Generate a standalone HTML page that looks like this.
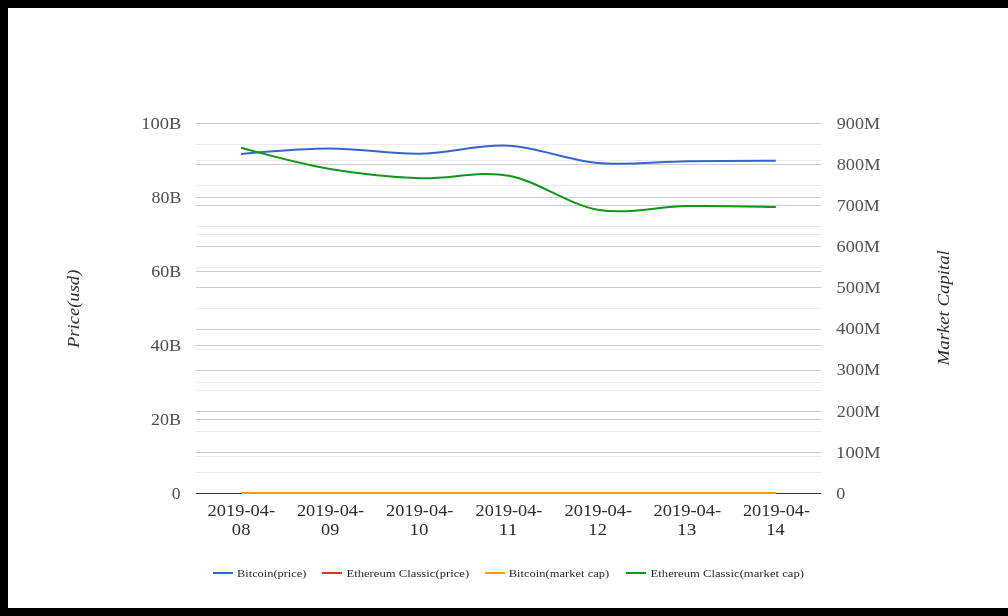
<!DOCTYPE html>
<html lang="en">
<head>
<meta charset="utf-8">
<title>Price / Market Capital chart</title>
<style>
html,body{margin:0;padding:0;background:#000;}
body{width:1008px;height:616px;overflow:hidden;position:relative;font-family:"Liberation Serif", serif;}
#chart{position:absolute;left:8px;top:8px;width:1000px;height:600px;background:#fff;}
svg{position:absolute;left:0;top:0;display:block;will-change:transform;}
svg text{font-family:"Liberation Serif", serif;}
</style>
</head>
<body>
<div id="chart"></div>
<svg width="1008" height="616" viewBox="0 0 1008 616" aria-label="A chart.">
<g shape-rendering="crispEdges">
<rect x="196" y="472" width="625" height="1" fill="#ebebeb"/>
<rect x="196" y="431" width="625" height="1" fill="#ebebeb"/>
<rect x="196" y="390" width="625" height="1" fill="#ebebeb"/>
<rect x="196" y="349" width="625" height="1" fill="#ebebeb"/>
<rect x="196" y="308" width="625" height="1" fill="#ebebeb"/>
<rect x="196" y="267" width="625" height="1" fill="#ebebeb"/>
<rect x="196" y="226" width="625" height="1" fill="#ebebeb"/>
<rect x="196" y="185" width="625" height="1" fill="#ebebeb"/>
<rect x="196" y="144" width="625" height="1" fill="#ebebeb"/>
<rect x="196" y="160" width="625" height="1" fill="#ebebeb"/>
<rect x="196" y="234" width="625" height="1" fill="#ebebeb"/>
<rect x="196" y="308" width="625" height="1" fill="#ebebeb"/>
<rect x="196" y="382" width="625" height="1" fill="#ebebeb"/>
<rect x="196" y="456" width="625" height="1" fill="#ebebeb"/>
<rect x="196" y="452" width="625" height="1" fill="#cccccc"/>
<rect x="196" y="411" width="625" height="1" fill="#cccccc"/>
<rect x="196" y="370" width="625" height="1" fill="#cccccc"/>
<rect x="196" y="329" width="625" height="1" fill="#cccccc"/>
<rect x="196" y="287" width="625" height="1" fill="#cccccc"/>
<rect x="196" y="246" width="625" height="1" fill="#cccccc"/>
<rect x="196" y="205" width="625" height="1" fill="#cccccc"/>
<rect x="196" y="164" width="625" height="1" fill="#cccccc"/>
<rect x="196" y="123" width="625" height="1" fill="#cccccc"/>
<rect x="196" y="197" width="625" height="1" fill="#cccccc"/>
<rect x="196" y="271" width="625" height="1" fill="#cccccc"/>
<rect x="196" y="345" width="625" height="1" fill="#cccccc"/>
<rect x="196" y="419" width="625" height="1" fill="#cccccc"/>
<rect x="196" y="493" width="625" height="1" fill="#333333"/>
</g>
<g fill="none" stroke-width="2">
<path d="M241.03,153.96C241.03,153.96,300.46,148.43,330.17,148.40C359.88,148.37,389.60,154.24,419.31,153.80C449.02,153.36,478.74,144.21,508.45,145.74C538.16,147.27,567.88,160.41,597.59,163.00C627.30,165.59,657.02,161.67,686.73,161.30C716.44,160.93,775.87,160.80,775.87,160.80" stroke="#3366cc"/>
<path d="M241.03,493L775.87,493" stroke="#dc3912"/>
<path d="M241.03,493L775.87,493" stroke="#ff9900"/>
<path d="M241.03,147.70C241.03,147.70,300.46,163.93,330.17,169.00C359.88,174.07,389.60,177.03,419.31,178.15C449.02,179.27,478.74,170.44,508.45,175.70C538.16,180.96,567.88,204.63,597.59,209.70C627.30,214.77,657.02,206.53,686.73,206.10C716.44,205.67,775.87,207.10,775.87,207.10" stroke="#109618"/>
</g>
<g>
<text x="181.5" y="129.0" font-size="16.75" fill="#4e4e4e" text-anchor="end" textLength="40.2" lengthAdjust="spacingAndGlyphs">100B</text>
<text x="181.37" y="203.0" font-size="16.75" fill="#4e4e4e" text-anchor="end" textLength="29.88" lengthAdjust="spacingAndGlyphs">80B</text>
<text x="181.31" y="277.0" font-size="16.75" fill="#4e4e4e" text-anchor="end" textLength="30.03" lengthAdjust="spacingAndGlyphs">60B</text>
<text x="181.39" y="351.0" font-size="16.75" fill="#4e4e4e" text-anchor="end" textLength="30.79" lengthAdjust="spacingAndGlyphs">40B</text>
<text x="181.1" y="425.0" font-size="16.75" fill="#4e4e4e" text-anchor="end" textLength="30.08" lengthAdjust="spacingAndGlyphs">20B</text>
<text x="180.59" y="499.0" font-size="16.75" fill="#4e4e4e" text-anchor="end" textLength="8.86" lengthAdjust="spacingAndGlyphs">0</text>
<text x="836.37" y="499.0" font-size="16.75" fill="#525252" textLength="8.99" lengthAdjust="spacingAndGlyphs">0</text>
<text x="836.11" y="458.0" font-size="16.75" fill="#525252" textLength="44.47" lengthAdjust="spacingAndGlyphs">100M</text>
<text x="836.86" y="417.0" font-size="16.75" fill="#525252" textLength="43.3" lengthAdjust="spacingAndGlyphs">200M</text>
<text x="836.72" y="375.0" font-size="16.75" fill="#525252" textLength="43.42" lengthAdjust="spacingAndGlyphs">300M</text>
<text x="836.13" y="334.0" font-size="16.75" fill="#525252" textLength="44.29" lengthAdjust="spacingAndGlyphs">400M</text>
<text x="836.56" y="293.0" font-size="16.75" fill="#525252" textLength="44.02" lengthAdjust="spacingAndGlyphs">500M</text>
<text x="836.6" y="252.0" font-size="16.75" fill="#525252" textLength="43.38" lengthAdjust="spacingAndGlyphs">600M</text>
<text x="836.81" y="211.0" font-size="16.75" fill="#525252" textLength="43.09" lengthAdjust="spacingAndGlyphs">700M</text>
<text x="836.66" y="170.0" font-size="16.75" fill="#525252" textLength="43.84" lengthAdjust="spacingAndGlyphs">800M</text>
<text x="836.84" y="129.0" font-size="16.75" fill="#525252" textLength="43.24" lengthAdjust="spacingAndGlyphs">900M</text>
<text x="241.39" y="516.0" font-size="16.75" fill="#2d2d2d" text-anchor="middle" textLength="67.65" lengthAdjust="spacingAndGlyphs">2019-04-</text>
<text x="241.16" y="535.0" font-size="16.75" fill="#2d2d2d" text-anchor="middle" textLength="18.54" lengthAdjust="spacingAndGlyphs">08</text>
<text x="330.53" y="516.0" font-size="16.75" fill="#2d2d2d" text-anchor="middle" textLength="67.14" lengthAdjust="spacingAndGlyphs">2019-04-</text>
<text x="330.17" y="535.0" font-size="16.75" fill="#2d2d2d" text-anchor="middle" textLength="18.15" lengthAdjust="spacingAndGlyphs">09</text>
<text x="419.79" y="516.0" font-size="16.75" fill="#2d2d2d" text-anchor="middle" textLength="67.3" lengthAdjust="spacingAndGlyphs">2019-04-</text>
<text x="419.1" y="535.0" font-size="16.75" fill="#2d2d2d" text-anchor="middle" textLength="19.03" lengthAdjust="spacingAndGlyphs">10</text>
<text x="508.97" y="516.0" font-size="16.75" fill="#2d2d2d" text-anchor="middle" textLength="66.82" lengthAdjust="spacingAndGlyphs">2019-04-</text>
<text x="508.24" y="535.0" font-size="16.75" fill="#2d2d2d" text-anchor="middle" textLength="19.2" lengthAdjust="spacingAndGlyphs">11</text>
<text x="598.38" y="516.0" font-size="16.75" fill="#2d2d2d" text-anchor="middle" textLength="67.74" lengthAdjust="spacingAndGlyphs">2019-04-</text>
<text x="597.66" y="535.0" font-size="16.75" fill="#2d2d2d" text-anchor="middle" textLength="18.54" lengthAdjust="spacingAndGlyphs">12</text>
<text x="687.39" y="516.0" font-size="16.75" fill="#2d2d2d" text-anchor="middle" textLength="67.65" lengthAdjust="spacingAndGlyphs">2019-04-</text>
<text x="686.78" y="535.0" font-size="16.75" fill="#2d2d2d" text-anchor="middle" textLength="19.32" lengthAdjust="spacingAndGlyphs">13</text>
<text x="776.53" y="516.0" font-size="16.75" fill="#2d2d2d" text-anchor="middle" textLength="67.14" lengthAdjust="spacingAndGlyphs">2019-04-</text>
<text x="775.4" y="535.0" font-size="16.75" fill="#2d2d2d" text-anchor="middle" textLength="18.44" lengthAdjust="spacingAndGlyphs">14</text>
<text x="79.04" y="308.82" font-size="16.9" fill="#2e2e2e" text-anchor="middle" textLength="78.34" lengthAdjust="spacingAndGlyphs" font-style="italic" transform="rotate(-90 79.04 308.82)">Price(usd)</text>
<text x="948.92" y="307.77" font-size="16.9" fill="#2e2e2e" text-anchor="middle" textLength="115.2" lengthAdjust="spacingAndGlyphs" font-style="italic" transform="rotate(-90 948.92 307.77)">Market Capital</text>
<text x="237.02" y="577.0" font-size="11.2" fill="#292929" textLength="69.35" lengthAdjust="spacingAndGlyphs">Bitcoin(price)</text>
<text x="346.41" y="577.0" font-size="11.2" fill="#292929" textLength="122.79" lengthAdjust="spacingAndGlyphs">Ethereum Classic(price)</text>
<text x="508.74" y="577.0" font-size="11.2" fill="#292929" textLength="100.48" lengthAdjust="spacingAndGlyphs">Bitcoin(market cap)</text>
<text x="650.61" y="577.0" font-size="11.2" fill="#292929" textLength="153.39" lengthAdjust="spacingAndGlyphs">Ethereum Classic(market cap)</text>
</g>
<g>
<rect x="213" y="572" width="20" height="2" fill="#3366cc"/>
<rect x="322" y="572" width="20" height="2" fill="#dc3912"/>
<rect x="485" y="572" width="20" height="2" fill="#ff9900"/>
<rect x="626" y="572" width="20" height="2" fill="#109618"/>
</g>
</svg>
</body>
</html>
